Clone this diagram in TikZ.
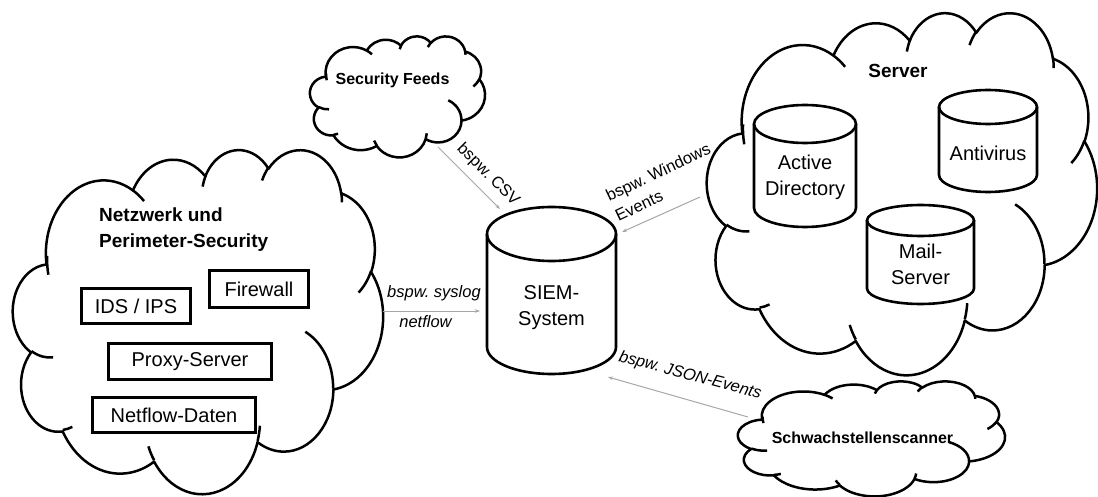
\documentclass[tikz,border=0pt]{standalone}
\usepackage{fontspec}
\setmainfont{Liberation Sans}
\usetikzlibrary{arrows.meta}
\frenchspacing

% ---- PowerPoint-like cloud path ----
\def\cldpath{}
\newcommand\cldM[2]{\edef\cldpath{\cldpath (\fpeval{round(\cX+(#1)*\cW/43200,3)}pt,\fpeval{round(-(\cY+(#2)*\cH/43200),3)}pt)}}
\newcommand\cldA[4]{%
 \edef\tOne{\fpeval{atand((#1)*sind((#3)/60000),(#2)*cosd((#3)/60000))}}%
 \edef\tTwo{\fpeval{atand((#1)*sind((#3+#4)/60000),(#2)*cosd((#3+#4)/60000))}}%
 \edef\tD{\fpeval{\tTwo-\tOne-360*round((\tTwo-\tOne-(#4)/60000)/360)}}%
 \edef\cldpath{\cldpath arc[start angle=\fpeval{round(-\tOne,3)},delta angle=\fpeval{round(-\tD,3)},x radius=\fpeval{round((#1)*\cW/43200,3)}pt,y radius=\fpeval{round((#2)*\cH/43200,3)}pt]}%
}
\newcommand\drawcloud[4]{%
 \def\cX{#1}\def\cY{#2}\def\cW{#3}\def\cH{#4}%
 \def\cldpath{}%
 \cldM{3900}{14370}%
 \cldA{6753}{9190}{-11429249}{7426832}%
 \cldA{5333}{7267}{-8646143}{5396714}%
 \cldA{4365}{5945}{-8748475}{5983381}%
 \cldA{4857}{6595}{-7859164}{7034504}%
 \cldA{5333}{7273}{-4722533}{6541615}%
 \cldA{6775}{9220}{-2776035}{7816140}%
 \cldA{5785}{7867}{37501}{6842000}%
 \cldA{6752}{9215}{1347096}{6910353}%
 \cldA{7720}{10543}{3974558}{4542661}%
 \cldA{4360}{5918}{-16496525}{8804134}%
 \cldA{4345}{5945}{-14809710}{9151131}%
 \draw[cloudline, fill=white] \cldpath -- cycle;
 \def\cldpath{}%
 \cldM{4693}{26177}\cldA{4345}{5945}{5204520}{1585770}%
 \cldM{6928}{34899}\cldA{4360}{5918}{4416628}{686848}%
 \cldM{16478}{39090}\cldA{6752}{9215}{8257449}{844866}%
 \cldM{28827}{34751}\cldA{6752}{9215}{387196}{959901}%
 \cldM{34129}{22954}\cldA{5785}{7867}{-4217541}{4255042}%
 \cldM{41798}{15354}\cldA{5333}{7273}{1819082}{1665090}%
 \cldM{38324}{5426}\cldA{4857}{6595}{-824660}{891534}%
 \cldM{29078}{3952}\cldA{4857}{6595}{-8950887}{1091722}%
 \cldM{22141}{4720}\cldA{4365}{5945}{-9809656}{1061181}%
 \cldM{14000}{5192}\cldA{6753}{9190}{-4002417}{739161}%
 \cldM{4127}{15789}\cldA{6753}{9190}{9835548}{1200164}%
 \draw[cloudline] \cldpath;
}

% ---- cylinder: name, cx, ytop, ybot, rx, ry, text y, text ----
\newcommand\cyl[8]{%
 \draw[shapeline, fill=white] (#2-#5,#3+#6) -- (#2-#5,#4-#6)
   arc[start angle=180, end angle=360, x radius=#5pt, y radius=#6pt]
   -- (#2+#5,#3+#6);
 \draw[shapeline] (#2,#3+#6) ellipse[x radius=#5pt, y radius=#6pt];
 \node[cyltext] (#1) at (#2,#7) {#8};
}

\tikzset{
 cloudline/.style={line width=2.5pt, black, line join=round},
 shapeline/.style={line width=2.6pt, black},
 boxs/.style={draw, line width=2.6pt, fill=white, inner sep=0pt, font=\fontsize{20}{24}\selectfont},
 cyltext/.style={align=center, font=\fontsize{20}{26}\selectfont, inner sep=0pt},
 flow/.style={draw=gray!70, line width=1pt, -{Stealth[length=5pt,width=3.5pt]}},
 lab/.style={inner sep=0pt, font=\fontsize{16.5}{22}\selectfont},
 cldlab/.style={font=\bfseries\fontsize{16}{20}\selectfont, inner sep=0pt},
 biglab/.style={font=\bfseries\fontsize{19}{26}\selectfont, inner sep=0pt, align=left},
}

\begin{document}
\begin{tikzpicture}[x=1pt, y=-1pt]
\useasboundingbox (0,0) rectangle (1098,497);

% clouds
\drawcloud{13}{149}{370}{344}
\drawcloud{310}{36}{175}{121}
\drawcloud{707}{12}{390}{362}
\drawcloud{738}{381}{267}{115}

% cloud labels
\node[biglab, anchor=west] (netlab) at (99,230) {Netzwerk und\\Perimeter-Security};
\node[cldlab] (feedlab) at (392.5,80) {Security Feeds};
\node[font=\bfseries\fontsize{19}{24}\selectfont, inner sep=0pt] (srvlab) at (898,71) {Server};
\node[cldlab] (scanlab) at (862.5,438) {Schwachstellenscanner};

% boxes
\node[boxs, minimum width=109.5pt, minimum height=35.5pt] (ids) at (136,306) {IDS / IPS};
\node[boxs, minimum width=99.5pt, minimum height=37.5pt] (fw) at (259,289) {Firewall};
\node[boxs, minimum width=163.5pt, minimum height=36.5pt] (proxy) at (190,361.5) {Proxy-Server};
\node[boxs, minimum width=163.5pt, minimum height=35.5pt] (nfd) at (174,415) {Netflow-Daten};

% cylinders
\cyl{siem}{551.5}{207}{374}{64.5}{27}{308}{SIEM-\\System}
\cyl{ad}{805}{105}{227}{51}{19}{177}{Active\\Directory}
\cyl{av}{988}{90}{192}{49}{17}{153}{Antivirus}
\cyl{mail}{920.5}{205}{304}{53.5}{15.5}{264}{Mail-\\Server}

% connectors
\coordinate (csvA) at (438,147);
\coordinate (csvB) at (500,209);
\coordinate (winA) at (700,197);
\coordinate (winB) at (622,232);
\coordinate (sysA) at (383,311);
\coordinate (sysB) at (480,311);
\coordinate (jsnA) at (748,417);
\coordinate (jsnB) at (608,377);
\draw[flow] (csvA) -- (csvB);
\draw[flow] (winA) -- (winB);
\draw[flow] (sysA) -- (sysB);
\draw[flow] (jsnA) -- (jsnB);

% connector labels
\node[lab, rotate=-45] (lcsv) at (488,175) {bspw. CSV};
\node[lab, align=left, rotate=25.4] (lwin) at (662.8,182.1) {bspw. Windows\\Events};
\node[lab, anchor=base, font=\itshape\fontsize{16.5}{22}\selectfont] (lsys) at (434,298) {bspw. syslog};
\node[lab, anchor=base, font=\itshape\fontsize{16.5}{22}\selectfont] (lnet) at (425.5,327) {netflow};
\node[lab, anchor=base, rotate=-15, font=\itshape\fontsize{16.5}{22}\selectfont] (ljsn) at (689,380) {bspw. JSON-Events};
\end{tikzpicture}
\end{document}
